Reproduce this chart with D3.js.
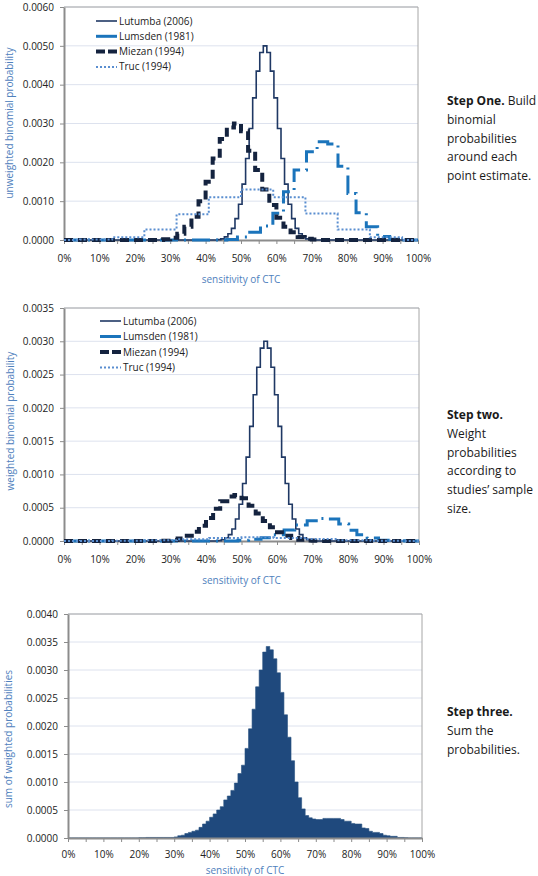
<!DOCTYPE html>
<html><head><meta charset="utf-8">
<script src="https://cdn.jsdelivr.net/npm/d3@7/dist/d3.min.js"></script>
<style>body{margin:0;background:#fff}svg{display:block}</style>
</head><body>
<svg id="c" width="538" height="876"></svg>
<script>
// ---------------- DATA ----------------
const seriesNames = ["Lutumba (2006)", "Lumsden (1981)", "Miezan (1994)", "Truc (1994)"];

// step edges (% sensitivity) and unweighted binomial probabilities per step
const lutumbaEdges = [43.3,44.3,45.3,46.3,47.3,48.3,49.3,50.3,51.3,52.3,53.3,54.3,55.3,56.3,57.3,58.3,59.3,60.3,61.3,62.3,63.3,64.3,65.3,66.3,67.3,68.3,69.3,70.3];
const lutumbaValues = [0.00001,0.00003,0.00008,0.00016,0.0003,0.00055,0.00092,0.00144,0.0021,0.00287,0.00366,0.00435,0.00483,0.0050,0.00483,0.00435,0.00366,0.00287,0.0021,0.00144,0.00092,0.00055,0.0003,0.00016,0.00008,0.00003,0.00001];

const lumsdenEdges = [46,49,52,55.5,59,62,65,68.5,71.5,74.5,77.4,80.2,82.5,85.4,88.6,92,96];
const lumsdenValues = [0.00001,0.00008,0.0002,0.00036,0.00069,0.00124,0.0018,0.00227,0.00253,0.00247,0.0019,0.0012,0.0007,0.00034,0.00009,0.00002];

const miezanEdges = [28,30,32,34,36,38,40,42,44,46,48,50,52,54,56,58,60,62,64,66,68,70,72];
const miezanValues = [0.00002,0.00006,0.00016,0.00034,0.0006,0.001,0.0015,0.0021,0.0026,0.0029,0.0030,0.0028,0.0023,0.0018,0.0013,0.0009,0.00057,0.00034,0.0002,0.00008,0.00003,0.00001];

const trucEdges = [4.5,13.6,22.7,31.8,40.9,50,59.1,68.2,77.3,86.4,95.5];
const trucValues = [0.00001,0.00007,0.00027,0.00066,0.0011,0.0013,0.0011,0.00068,0.00027,0.00007];

// weights by sample size (step two)
const studyWeights = [0.6, 0.134, 0.23, 0.042];

// step three: sum of weighted probabilities, 1% bins starting at 0%
const sumValues = [0,0,0,0,0,0,0,0,0,0, 0,0,0,0,0,0,0,0,0,0,
  0.000005,0.000005,0.00001,0.00001,0.00001,0.00001,0.00001,0.00001,0.00001,0.00001,
  0.00002,0.00004,0.00005,0.00008,0.0001,0.00012,0.00014,0.00019,0.00025,0.0003,
  0.00037,0.00043,0.0005,0.00056,0.00068,0.00075,0.00085,0.00098,0.00115,0.0013,
  0.0016,0.00195,0.0023,0.0027,0.003,0.00332,0.00342,0.00336,0.0032,0.00295,
  0.0026,0.0022,0.0018,0.00138,0.001,0.00072,0.00052,0.0004,0.00036,0.00034,
  0.00033,0.00033,0.00035,0.00035,0.00035,0.00035,0.00035,0.00033,0.0003,0.0003,
  0.00026,0.00025,0.00025,0.00018,0.00017,0.00012,0.0001,0.0001,0.00008,0.00005,
  0.00004,0.00003,0.00003,0.00001,0.00001,0.000005,0,0,0,0];

const xTickLabels = [0,10,20,30,40,50,60,70,80,90,100];
const yTicks1 = [0,0.001,0.002,0.003,0.004,0.005,0.006];
const yTicks2 = [0,0.0005,0.001,0.0015,0.002,0.0025,0.003,0.0035];
const yTicks3 = [0,0.0005,0.001,0.0015,0.002,0.0025,0.003,0.0035,0.004];

// ---------------- DRAWING ----------------
const FONT = "'Open Sans', sans-serif";
const svg = d3.select("#c");
const seriesEdges = [lutumbaEdges, lumsdenEdges, miezanEdges, trucEdges];
const seriesValues = [lutumbaValues, lumsdenValues, miezanValues, trucValues];
const styles = [
  {color: "#1f3864", width: 1.6, dash: null, legendDash: null},
  {color: "#1b74bb", width: 3, dash: "18,6,2,6", legendDash: null},
  {color: "#14233f", width: 4, dash: "9,5", legendDash: "9,3"},
  {color: "#5a8ed0", width: 2, dash: "2,2", legendDash: "2,2"}
];
const titleColor = "#4f81bd";

function grid(g, x, y, yTicks) {
  const [x0, x1] = x.range();
  g.append("g").selectAll("line").data(yTicks.filter(d => d > 0)).join("line")
    .attr("x1", x0).attr("x2", x1).attr("y1", d => y(d)).attr("y2", d => y(d))
    .attr("stroke", "#dde2ee").attr("stroke-width", 1);
}

function axes(g, x, y, yTicks, cfg) {
  const [x0, x1] = x.range();
  const [yb, yt] = y.range();
  g.append("path").attr("d", `M${x0},${yt}H${x1}V${yb}`).attr("fill", "none")
    .attr("stroke", "#a6a6a6").attr("stroke-width", 1);
  const ya = g.append("g").attr("transform", `translate(${x0},0)`)
    .call(d3.axisLeft(y).tickValues(yTicks).tickFormat(d3.format(".4f")).tickSize(4).tickSizeOuter(0).tickPadding(6));
  const xa = g.append("g").attr("transform", `translate(0,${yb})`)
    .call(d3.axisBottom(x).tickValues(d3.range(0, 101, 5))
      .tickFormat(d => xTickLabels.includes(d) ? d + "%" : "").tickSize(4).tickSizeOuter(0).tickPadding(cfg.xPad));
  [ya, xa].forEach(a => {
    a.select(".domain").attr("stroke", "#8c8c8c").attr("stroke-width", 2);
    a.selectAll(".tick line").attr("stroke", "#8c8c8c");
    a.selectAll("text").attr("font-family", FONT).attr("font-size", 10).attr("fill", "#222");
  });
  g.append("text").attr("x", (x0 + x1) / 2).attr("y", cfg.xTitleY).attr("text-anchor", "middle")
    .attr("font-family", FONT).attr("font-size", 10).attr("fill", titleColor).text("sensitivity of CTC");
  g.append("text").attr("transform", `translate(${cfg.yTitleX},${cfg.yTitleCy}) rotate(-90)`)
    .attr("text-anchor", "middle").attr("font-family", FONT).attr("font-size", 10)
    .attr("fill", titleColor).text(cfg.yTitle);
}

function lineChart(cfg, weights) {
  const g = svg.append("g");
  const x = d3.scaleLinear().domain([0, 100]).range([cfg.x0, cfg.x1]);
  const y = d3.scaleLinear().domain([0, cfg.yMax]).range([cfg.yb, cfg.yt]);
  grid(g, x, y, cfg.yTicks);
  axes(g, x, y, cfg.yTicks, cfg);
  const line = d3.line().x(d => x(d[0])).y(d => y(d[1])).curve(d3.curveStepAfter);
  seriesNames.forEach((name, i) => {
    const e = seriesEdges[i], v = seriesValues[i], w = weights ? weights[i] : 1;
    const pts = [[0, 0]];
    v.forEach((val, j) => pts.push([e[j], val * w]));
    pts.push([e[e.length - 1], 0]);
    pts.push([100, 0]);
    const s = styles[i];
    g.append("path").attr("d", line(pts)).attr("fill", "none")
      .attr("stroke", s.color).attr("stroke-width", s.width)
      .attr("stroke-dasharray", s.dash).attr("stroke-linejoin", "miter");
  });
  const lg = g.append("g");
  seriesNames.forEach((name, i) => {
    const s = styles[i];
    const ly = cfg.legY + i * cfg.legDy;
    lg.append("line").attr("x1", cfg.legX).attr("x2", cfg.legX + 21).attr("y1", ly).attr("y2", ly)
      .attr("stroke", s.color).attr("stroke-width", s.width).attr("stroke-dasharray", s.legendDash);
    lg.append("text").attr("x", cfg.legX + 23).attr("y", ly).attr("dy", "0.35em")
      .attr("font-family", FONT).attr("font-size", 10).attr("fill", "#222").text(name);
  });
}

lineChart({x0: 64, x1: 418, yt: 7, yb: 240, yMax: 0.006, yTicks: yTicks1, xPad: 10.5,
  xTitleY: 283, yTitleX: 13, yTitleCy: 123, yTitle: "unweighted binomial probability",
  legX: 96, legY: 21, legDy: 15.3}, null);

lineChart({x0: 64, x1: 419, yt: 308, yb: 541, yMax: 0.0035, yTicks: yTicks2, xPad: 10.5,
  xTitleY: 584, yTitleX: 14, yTitleCy: 421, yTitle: "weighted binomial probability",
  legX: 100, legY: 321, legDy: 15.5}, studyWeights);

// bar chart (step three)
(function () {
  const cfg = {x0: 68, x1: 422, yt: 614, yb: 838, xPad: 9, xTitleY: 874, yTitleX: 12, yTitleCy: 739,
    yTitle: "sum of weighted probabilities"};
  const g = svg.append("g");
  const x = d3.scaleLinear().domain([0, 100]).range([cfg.x0, cfg.x1]);
  const y = d3.scaleLinear().domain([0, 0.004]).range([cfg.yb, cfg.yt]);
  grid(g, x, y, yTicks3);
  const pts = sumValues.map((v, i) => [i, v]);
  pts.push([100, 0]);
  const area = d3.area().x(d => x(d[0])).y0(y(0)).y1(d => y(d[1])).curve(d3.curveStepAfter);
  g.append("path").attr("d", area(pts)).attr("fill", "#1f497d")
    .attr("stroke", "#27507f").attr("stroke-width", 0.6);
  axes(g, x, y, yTicks3, cfg);
})();

// right-hand notes
const notes = [
  {y: 105, lines: [[["Step One.", true], [" Build", false]], [["binomial", false]], [["probabilities", false]], [["around each", false]], [["point estimate.", false]]]},
  {y: 419, lines: [[["Step two.", true]], [["Weight", false]], [["probabilities", false]], [["according to", false]], [["studies\u2019 sample", false]], [["size.", false]]]},
  {y: 716, lines: [[["Step three.", true]], [["Sum the", false]], [["probabilities.", false]]]}
];
notes.forEach(n => {
  n.lines.forEach((parts, i) => {
    const t = svg.append("text").attr("x", 447).attr("y", n.y + i * 18.8)
      .attr("font-family", FONT).attr("font-size", 12).attr("fill", "#1a1a1a");
    parts.forEach(p => t.append("tspan").attr("font-weight", p[1] ? "bold" : "normal").text(p[0]));
  });
});
</script>
</body></html>
